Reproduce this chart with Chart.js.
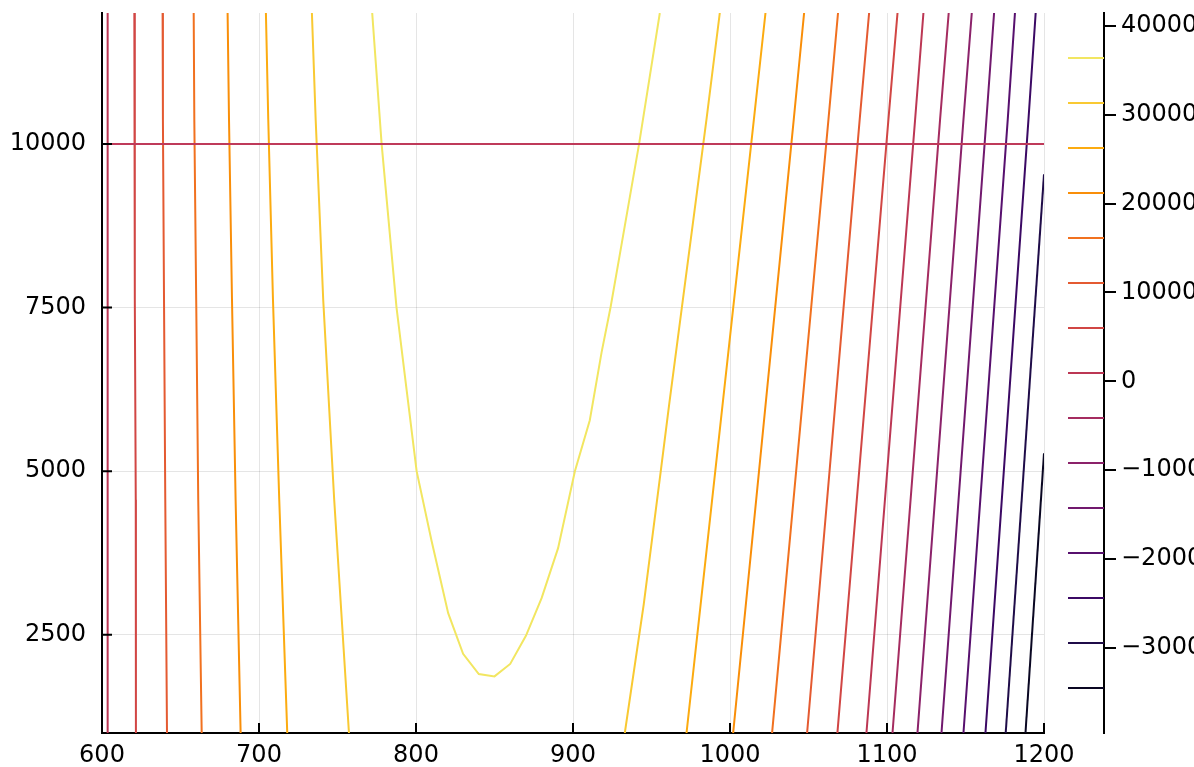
<!DOCTYPE html>
<html lang="en">
<head>
    <meta charset="UTF-8">
    <title>Contour</title>
    <script src="https://cdn.jsdelivr.net/npm/chart.js"></script>
    <style>
        * { margin: 0; padding: 0; box-sizing: border-box; }
        body { width: 1194px; height: 767px; background: #fff; overflow: hidden; position: relative; }
        #main { position: absolute; left: 0; top: 0; }
        #bar { position: absolute; left: 1060px; top: 0; }
    </style>
</head>
<body>
    <canvas id="main" width="1194" height="767"></canvas>
    <canvas id="bar" width="134" height="767"></canvas>

    <script>
        // axis ticks
        const xTicks = [600, 700, 800, 900, 1000, 1100, 1200];
        const yTicks = [2500, 5000, 7500, 10000];
        const barTicks = [-30000, -20000, -10000, 0, 10000, 20000, 30000, 40000];
        const barMin = -39560;
        const barMax = 41430;

        // contour levels (highest first) as on the colour bar
        const levels = [36367, 31305, 26243, 21181, 16119, 11057, 5995, 933,
                        -4128, -9190, -14252, -19314, -24376, -29438, -34500];
        const levelColors = ['#f2e661', '#f9c932', '#fcab10', '#f98e09', '#f1711f', '#e45a31', '#d14644', '#bc3754',
                             '#a52c60', '#8b226a', '#71196e', '#57106e', '#3b0964', '#1f0c48', '#0a0722'];

        // contour paths: level index into levels, x and y of each vertex
        const pathLevel = [7, 6, 5, 4, 3, 2, 1, 0,
                           1, 2, 3, 4, 5, 6, 7, 8, 9, 10, 11, 12, 13, 14];
        const pathX = [
            [603.6, 603.6],
            [620.6, 620.8, 621.0, 621.5, 621.6],
            [638.6, 638.8, 639.5, 640.3, 641.4],
            [658.4, 658.8, 660.0, 661.3, 663.5],
            [680.0, 680.9, 682.8, 685.1, 688.3],
            [704.4, 705.9, 708.9, 712.9, 718.0],
            [733.7, 736.1, 740.9, 747.9, 757.3],
            [772.1, 778.1, 787.6, 794.0, 800.4, 809.9, 820.5, 830, 840, 850, 860, 870, 880,
             890.5, 901.2, 910.7, 918.2, 923.9, 929.8, 942.1, 955.3],
            [993.5, 985.0, 961.2, 955.9, 945.1, 933.0],
            [1022.6, 1015.2, 972.3],
            [1047.2, 1040.6, 1002.0],
            [1068.8, 1062.7, 1026.8],
            [1088.6, 1082.6, 1049.1],
            [1106.7, 1100.9, 1068.4],
            [1123.2, 1117.9, 1086.9],
            [1139.3, 1133.8, 1103.5],
            [1154.0, 1148.7, 1119.4],
            [1168.2, 1163.3, 1134.7],
            [1181.5, 1176.9, 1148.7],
            [1194.7, 1190.1, 1162.7],
            [1200, 1175.6],
            [1200, 1188.2]
        ];
        const pathY = [
            [12000, 1000],
            [12000, 10370, 7620, 4564, 1000],
            [12000, 10370, 7620, 4564, 1000],
            [12000, 10370, 7620, 4564, 1000],
            [12000, 10370, 7620, 4564, 1000],
            [12000, 10370, 7620, 4564, 1000],
            [12000, 10370, 7620, 4564, 1000],
            [12000, 10000, 7500, 6245, 5000, 3937, 2830, 2210, 1900, 1865, 2055, 2485, 3060,
             3824, 5000, 5778, 6815, 7500, 8309, 10000, 12000],
            [12000, 10370, 6009, 5000, 2974, 1000],
            [12000, 10370, 1000],
            [12000, 10370, 1000],
            [12000, 10370, 1000],
            [12000, 10370, 1000],
            [12000, 10370, 1000],
            [12000, 10370, 1000],
            [12000, 10370, 1000],
            [12000, 10370, 1000],
            [12000, 10370, 1000],
            [12000, 10370, 1000],
            [12000, 10370, 1000],
            [9535, 1000],
            [5274, 1000]
        ];

        const hlineY = [10000];

        const font = { family: 'DejaVu Sans', size: 24 };

        // inward tick marks like the original
        const innerTicks = {
            id: 'innerTicks',
            afterDraw(chart) {
                const { ctx, chartArea: a, scales: { x, y } } = chart;
                ctx.save();
                ctx.strokeStyle = '#000';
                ctx.lineWidth = 2;
                ctx.beginPath();
                x.ticks.forEach(t => {
                    const px = x.getPixelForValue(t.value);
                    ctx.moveTo(px, a.bottom);
                    ctx.lineTo(px, a.bottom - 10);
                });
                y.ticks.forEach(t => {
                    const py = y.getPixelForValue(t.value);
                    ctx.moveTo(a.left, py);
                    ctx.lineTo(a.left + 10, py);
                });
                ctx.stroke();
                ctx.restore();
            }
        };

        const noPad = s => { s.paddingTop = 0; s.paddingBottom = 0; s.paddingLeft = 0; s.paddingRight = 0; };

        const datasets = [];
        hlineY.forEach(v => {
            datasets.push({
                data: [{ x: 600, y: v }, { x: 1200, y: v }],
                borderColor: '#bf3a5a',
                borderWidth: 2
            });
        });
        pathX.forEach((xs, i) => {
            datasets.push({
                data: xs.map((x, j) => ({ x: x, y: pathY[i][j] })),
                borderColor: levelColors[pathLevel[i]],
                borderWidth: 2
            });
        });

        new Chart(document.getElementById('main'), {
            type: 'line',
            data: { datasets: datasets },
            options: {
                responsive: false,
                animation: false,
                layout: { padding: { left: 0, right: 150, top: 13, bottom: 0 } },
                elements: { point: { radius: 0 }, line: { tension: 0 } },
                plugins: { legend: { display: false }, tooltip: { enabled: false } },
                scales: {
                    x: {
                        type: 'linear', min: 600, max: 1200,
                        afterBuildTicks: s => { s.ticks = xTicks.map(v => ({ value: v })); },
                        afterFit: s => { s.height = 34; noPad(s); },
                        grid: { color: 'rgba(0,0,0,0.1)', lineWidth: 1, drawTicks: false },
                        border: { color: '#000', width: 2 },
                        ticks: { font: font, color: '#000', padding: 8, maxRotation: 0, callback: v => String(v) }
                    },
                    y: {
                        type: 'linear', min: 1000, max: 12000,
                        afterBuildTicks: s => { s.ticks = yTicks.map(v => ({ value: v })); },
                        afterFit: s => { s.width = 102; noPad(s); },
                        grid: { color: 'rgba(0,0,0,0.1)', lineWidth: 1, drawTicks: false },
                        border: { color: '#000', width: 2 },
                        ticks: { font: font, color: '#000', padding: 16, callback: v => String(v) }
                    }
                }
            },
            plugins: [innerTicks]
        });

        // colour bar
        new Chart(document.getElementById('bar'), {
            type: 'line',
            data: {
                datasets: levels.map((v, i) => ({
                    data: [{ x: 0, y: v }, { x: 1, y: v }],
                    borderColor: levelColors[i],
                    borderWidth: 2
                }))
            },
            options: {
                responsive: false,
                animation: false,
                layout: { padding: { left: 8, right: 0, top: 13, bottom: 34 } },
                elements: { point: { radius: 0 }, line: { tension: 0 } },
                plugins: { legend: { display: false }, tooltip: { enabled: false } },
                scales: {
                    x: { type: 'linear', min: 0, max: 1, display: false },
                    y: {
                        type: 'linear', position: 'right', min: barMin, max: barMax,
                        afterBuildTicks: s => { s.ticks = barTicks.map(v => ({ value: v })); },
                        afterFit: s => { s.width = 90; noPad(s); },
                        grid: { drawOnChartArea: false, drawTicks: true, tickLength: 12, color: '#000', lineWidth: 2 },
                        border: { color: '#000', width: 2 },
                        ticks: {
                            font: font, color: '#000', padding: 5,
                            callback: v => (v < 0 ? '\u2212' + Math.abs(v) : String(v))
                        }
                    }
                }
            }
        });
    </script>
</body>
</html>
